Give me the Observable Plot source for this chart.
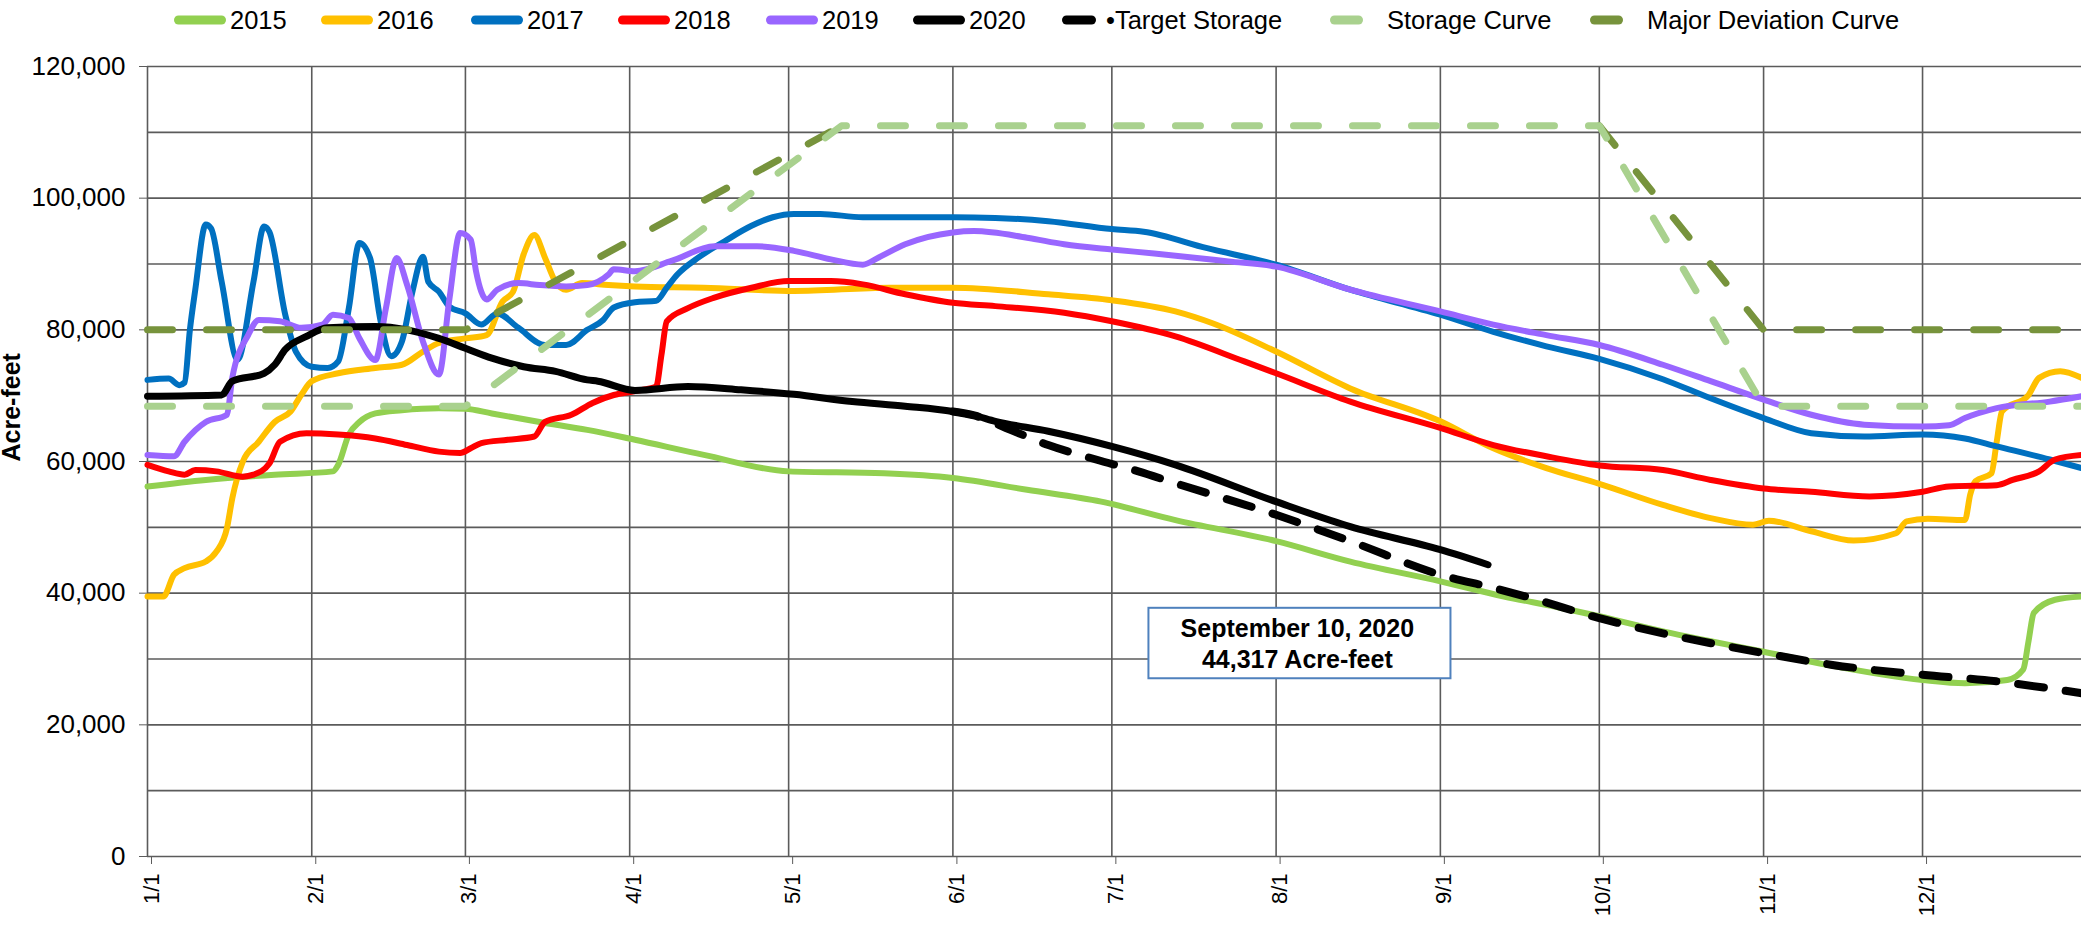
<!DOCTYPE html>
<html><head><meta charset="utf-8">
<script src="https://cdn.jsdelivr.net/npm/d3@7"></script>
<script src="https://cdn.jsdelivr.net/npm/@observablehq/plot@0.6"></script>
<style>
html,body{margin:0;padding:0;background:#fff;}
body{width:2081px;height:926px;overflow:hidden;font-family:"Liberation Sans",Arial,sans-serif;}
#legend{position:relative;width:2081px;height:40px;}
.item{position:absolute;top:0;height:40px;display:flex;align-items:center;font-size:25.5px;color:#000;white-space:nowrap;}
.item svg{display:block;}
</style></head><body>
<div id="legend"></div>
<div id="chart"></div>
<script>
// ---------- data (date "M/D", acre-feet) ----------
const legendNames = ["2015","2016","2017","2018","2019","2020","•Target Storage","Storage Curve","Major Deviation Curve"];
const monthTicks = ["1/1","2/1","3/1","4/1","5/1","6/1","7/1","8/1","9/1","10/1","11/1","12/1"];
const yTicks = [0,20000,40000,60000,80000,100000,120000];

const s2015 = [["1/1",56200],["1/12",57200],["1/25",58000],["2/5",58500],["2/6",59500],["2/8",64100],["2/10",66000],["2/13",67300],["2/18",67800],["2/25",68100],["3/1",68000],["3/6",67300],["3/15",66000],["3/24",64800],["4/2",63300],["4/15",61000],["5/1",58500],["5/19",58200],["6/1",57500],["6/15",55700],["6/29",53900],["7/13",51100],["8/1",47900],["8/15",44800],["9/1",41800],["9/13",39500],["9/23",37900],["10/1",36500],["10/13",34200],["10/22",32700],["11/1",31100],["11/13",29100],["12/1",26800],["12/9",26300],["12/17",26800],["12/20",28400],["12/21",32700],["12/22",37000],["12/26",39000],["12/31",39500]];

const s2016 = [["1/1",39500],["1/4",39500],["1/6",42800],["1/8",43800],["1/12",44800],["1/14",46300],["1/16",49900],["1/17",54400],["1/19",60000],["1/22",63000],["1/25",66000],["1/28",67600],["1/30",70100],["2/1",72200],["2/6",73400],["2/13",74200],["2/18",74700],["2/22",76700],["2/25",78000],["3/1",78700],["3/5",79200],["3/8",84300],["3/10",85800],["3/12",91500],["3/14",94400],["3/16",91000],["3/18",87300],["3/20",86100],["3/23",87100],["3/28",86800],["4/2",86600],["4/15",86400],["5/2",85900],["5/20",86400],["6/1",86400],["6/19",85400],["7/1",84500],["7/13",82800],["7/20",81000],["8/1",76700],["8/15",71100],["9/1",66100],["9/11",62000],["9/21",59000],["10/1",56600],["10/13",53400],["10/22",51400],["10/30",50400],["11/2",51000],["11/10",49400],["11/18",48000],["11/26",49100],["11/28",50900],["12/2",51300],["12/9",51100],["12/10",55000],["12/11",57000],["12/14",58200],["12/15",63000],["12/16",67600],["12/21",70100],["12/23",72700],["12/27",73700],["12/31",72700]];

const s2017 = [["1/1",72400],["1/5",72600],["1/7",71600],["1/8",72000],["1/9",80000],["1/10",86000],["1/12",96000],["1/13",95400],["1/15",87300],["1/18",75500],["1/21",87300],["1/23",95700],["1/24",94900],["1/27",82300],["1/29",76700],["2/1",74400],["2/4",74200],["2/6",75200],["2/8",83300],["2/10",93200],["2/12",90900],["2/14",81300],["2/16",76000],["2/18",78200],["2/20",85800],["2/22",91100],["2/23",87300],["2/25",85800],["2/27",83500],["3/1",82500],["3/4",80800],["3/7",82500],["3/11",80300],["3/16",77700],["3/20",77700],["3/24",80000],["3/27",81500],["3/29",83400],["4/2",84200],["4/6",84400],["4/8",86400],["4/10",88400],["4/14",91000],["4/19",93500],["4/24",95800],["4/28",97100],["5/2",97600],["5/7",97600],["5/15",97100],["5/23",97100],["6/1",97100],["6/9",97000],["6/19",96500],["7/1",95300],["7/7",94900],["7/19",92400],["8/1",89900],["8/15",86100],["9/1",82300],["9/11",79700],["9/21",77500],["10/1",75600],["10/13",72500],["10/22",69600],["11/1",66600],["11/10",64300],["11/20",63800],["12/1",64100],["12/9",63500],["12/15",62300],["12/25",60300],["12/31",59000]];

const s2018 = [["1/1",59500],["1/5",58500],["1/8",58000],["1/10",58700],["1/14",58500],["1/19",57700],["1/21",58000],["1/24",59700],["1/26",63000],["1/31",64300],["2/6",64100],["2/13",63500],["2/19",62500],["2/25",61500],["2/29",61300],["3/2",62000],["3/4",62800],["3/9",63300],["3/14",63800],["3/16",66000],["3/21",67100],["3/25",68900],["3/29",70100],["4/2",70700],["4/6",71400],["4/7",76200],["4/8",81300],["4/12",83300],["4/17",84900],["4/24",86400],["5/1",87400],["5/9",87400],["5/15",86900],["5/23",85400],["6/1",84100],["6/9",83600],["6/22",82600],["7/1",81300],["7/13",79000],["7/26",75200],["8/1",73400],["8/15",69100],["9/1",65100],["9/11",62500],["9/21",60800],["10/1",59400],["10/13",58700],["10/22",57200],["11/1",55900],["11/10",55400],["11/21",54700],["12/1",55400],["12/6",56200],["12/15",56400],["12/18",57200],["12/23",58500],["12/26",60300],["12/31",61000]];

const s2019 = [["1/1",61000],["1/6",60800],["1/8",63000],["1/12",66000],["1/16",67100],["1/17",72700],["1/20",79200],["1/22",81500],["1/26",81300],["1/30",80300],["2/3",80800],["2/5",82300],["2/8",81800],["2/10",78700],["2/13",75400],["2/15",83300],["2/17",90900],["2/19",86800],["2/22",78200],["2/25",73200],["2/27",84800],["2/29",94700],["3/2",93700],["3/3",88900],["3/5",84600],["3/7",86100],["3/11",87100],["3/15",86800],["3/20",86600],["3/24",86800],["3/28",88400],["3/29",89200],["4/2",88900],["4/9",90500],["4/17",92700],["4/25",92700],["5/2",92000],["5/9",90700],["5/15",89900],["5/18",91000],["5/23",93000],["6/1",94800],["6/5",95000],["6/15",94000],["6/22",93000],["7/1",92200],["7/9",91600],["7/23",90400],["8/1",89600],["8/15",86100],["9/1",82800],["9/11",80800],["9/21",79200],["10/1",77700],["10/13",74700],["10/22",72200],["11/1",69400],["11/10",67100],["11/20",65600],["12/1",65300],["12/6",65500],["12/9",66600],["12/15",68100],["12/25",69100],["12/31",69900]];

const s2020 = [["1/1",69900],["1/15",70100],["1/17",72200],["1/23",73400],["1/25",74700],["1/27",77000],["1/31",79000],["2/4",80300],["2/13",80500],["2/19",80000],["2/25",78700],["3/1",77200],["3/6",75700],["3/12",74400],["3/18",73700],["3/24",72400],["3/26",72200],["4/2",70800],["4/12",71400],["4/22",70900],["5/2",70200],["5/13",69100],["5/23",68400],["6/1",67600],["6/5",67000],["6/9",66100],["6/19",64600],["7/1",62300],["7/13",59500],["8/1",53900],["8/15",50100],["9/1",46600],["9/10",44317]];

const target = [["6/1",67600],["6/5",67000],["6/11",65100],["6/19",62500],["6/28",60300],["7/6",58500],["7/13",56700],["8/1",51900],["8/15",47900],["9/1",42800],["9/11",40800],["9/18",39300],["10/1",36200],["10/13",33900],["11/1",30900],["11/14",29100],["12/1",27600],["12/15",26600],["12/31",24800]];

const storageCurve = [["1/1",68400],["3/1",68400],["5/11",111000],["10/1",111000],["11/1",68400],["12/31",68400]];
// the flat top of the major deviation curve lies under the storage curve
const majorDeviation = [["1/1",80000],["3/1",80000],["5/11",111000],["5/12",null],["10/1",111000],["11/1",80000],["12/31",80000]];

const callout = [{from:"7/8", to:"9/3", low:27000, high:37700, at:"8/5", mid:32450, text:"September 10, 2020\n44,317 Acre-feet"}];

// ---------- helpers ----------
const parse = s => { const [m, d] = s.split("/").map(Number); return new Date(Date.UTC(2020, m - 1, d)); };
const rows = arr => arr.map(([d, v]) => ({date: parse(d), value: v == null ? NaN : v}));
const fmtMD = d => `${d.getUTCMonth() + 1}/${d.getUTCDate()}`;

const colors = {
  "2015": "#92d050", "2016": "#ffc000", "2017": "#0070c0", "2018": "#ff0000",
  "2019": "#9966ff", "2020": "#000000", "target": "#000000",
  "storage": "#a9d18e", "major": "#77933c"
};

const gridColor = "#5b5b5b";
const monthDates = monthTicks.map(parse);

const yearLine = (arr, color, w) => Plot.line(rows(arr), {
  x: "date", y: "value", stroke: color, strokeWidth: w,
  strokeLinejoin: "round", strokeLinecap: "round", curve: "monotone-x"
});
const dashLine = (arr, color, w, dash, curve) => Plot.line(rows(arr), {
  x: "date", y: "value", stroke: color, strokeWidth: w,
  strokeLinecap: "round", strokeLinejoin: "round", strokeDasharray: dash, curve
});

const chart = Plot.plot({
  width: 2081,
  height: 886,
  marginTop: 26,
  marginBottom: 70,
  marginLeft: 147,
  marginRight: 0,
  style: {fontFamily: "'Liberation Sans', Arial, sans-serif", color: "#000", background: "#fff", overflow: "visible"},
  x: {type: "utc", domain: [parse("1/1"), parse("12/31")]},
  y: {domain: [0, 120000]},
  marks: [
    Plot.gridY(d3.range(0, 120001, 10000), {stroke: gridColor, strokeOpacity: 1, strokeWidth: 1.6}),
    Plot.gridX(monthDates, {stroke: gridColor, strokeOpacity: 1, strokeWidth: 1.6}),
    Plot.axisY(yTicks, {tickFormat: d3.format(","), fontSize: 26, tickSize: 8, tickPadding: 14, stroke: gridColor, label: null}),
    Plot.axisX(monthDates, {tickFormat: fmtMD, tickRotate: -90, fontSize: 22, tickSize: 8, tickPadding: 9, dx: 4, stroke: gridColor, label: null}),
    Plot.text(["Acre-feet"], {frameAnchor: "left", rotate: -90, dx: -136, fontWeight: "bold", fontSize: 25, fill: "#000"}),
    yearLine(s2015, colors["2015"], 6),
    yearLine(s2016, colors["2016"], 6),
    yearLine(s2017, colors["2017"], 6),
    yearLine(s2018, colors["2018"], 6),
    yearLine(s2019, colors["2019"], 6),
    yearLine(s2020, colors["2020"], 7),
    dashLine(target, colors.target, 8, "26,22", "monotone-x"),
    dashLine(majorDeviation, colors.major, 7, "25,34", "linear"),
    dashLine(storageCurve, colors.storage, 7, "25,34", "linear"),
    Plot.rect(callout, {x1: d => parse(d.from), x2: d => parse(d.to), y1: "low", y2: "high", fill: "#fff", stroke: "#4f81bd", strokeWidth: 2}),
    Plot.text(callout, {x: d => parse(d.at), y: "mid", text: "text", fontWeight: "bold", fontSize: 25, lineHeight: 1.24, fill: "#000"})
  ]
});
document.getElementById("chart").appendChild(chart);

// ---------- legend ----------
const legendKeys = ["2015","2016","2017","2018","2019","2020","target","storage","major"];
const legendLeft = [174, 321, 471, 618, 766, 913, 1062, 1330, 1590];
const legend = document.getElementById("legend");
legendKeys.forEach((k, i) => {
  const item = document.createElement("div");
  item.className = "item";
  item.style.left = legendLeft[i] + "px";
  const ns = "http://www.w3.org/2000/svg";
  const sw = document.createElementNS(ns, "svg");
  let w, gap;
  if (i < 6) { w = 52; gap = 4; }
  else if (k === "target") { w = 34; gap = 10; }
  else { w = 33; gap = 24; }
  sw.setAttribute("width", w); sw.setAttribute("height", 12);
  const ln = document.createElementNS(ns, "line");
  ln.setAttribute("x1", 4.5); ln.setAttribute("x2", w - 4.5);
  ln.setAttribute("y1", 6); ln.setAttribute("y2", 6);
  ln.setAttribute("stroke", colors[k]);
  ln.setAttribute("stroke-width", 9);
  ln.setAttribute("stroke-linecap", "round");
  sw.appendChild(ln);
  sw.style.marginRight = gap + "px";
  item.appendChild(sw);
  const t = document.createElement("span");
  t.textContent = legendNames[i];
  item.appendChild(t);
  legend.appendChild(item);
});
</script>
</body></html>
